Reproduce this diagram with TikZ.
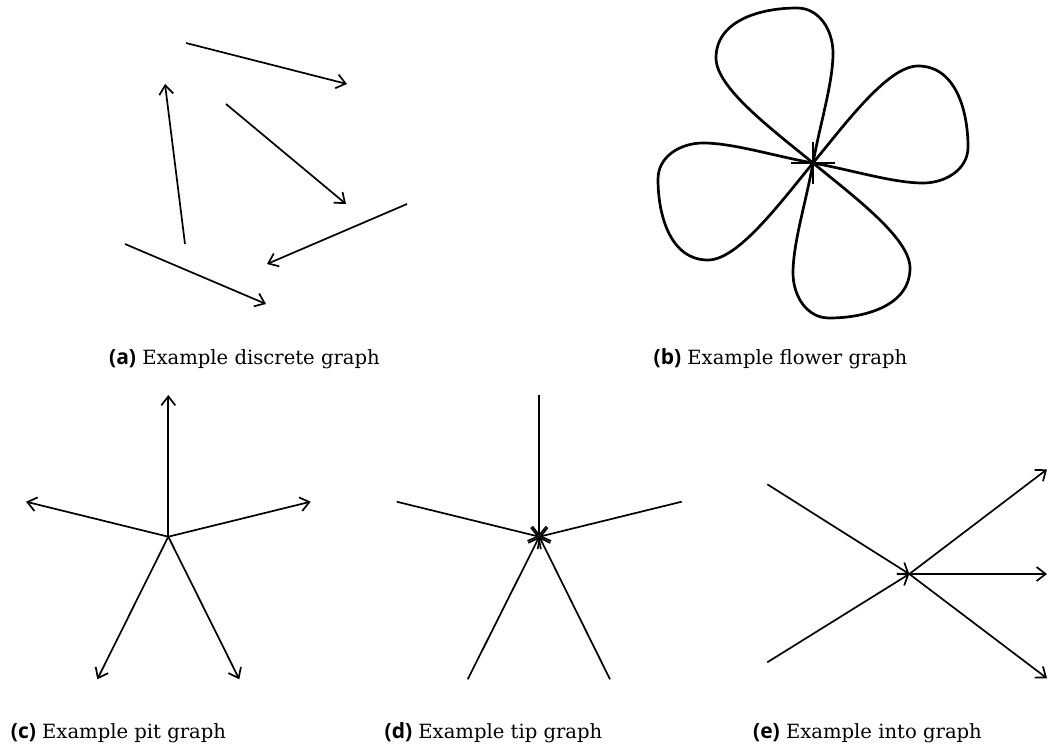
\documentclass[tikz,border=0pt]{standalone}
\usepackage{fontspec}
\setmainfont{DejaVu Serif}
\newfontfamily\capsans{Open Sans}
\usetikzlibrary{arrows.meta}
\begin{document}
\begin{tikzpicture}[x=1pt,y=-1pt,
  edge/.style={line width=1.7pt,-{Straight Barb[length=9pt,width=14pt,line width=1.7pt]}},
  petal/.style={line width=2.7pt,line join=round},
  tipbar/.style={line width=2.2pt},
  captext/.style={font=\fontsize{19.6}{24}\selectfont,anchor=base,inner sep=0pt}
]
\useasboundingbox (0,0) rectangle (1048,749);
\newcommand\sublbl[1]{{\capsans\bfseries\fontsize{21}{24}\selectfont (#1)}}

% (a) discrete graph
\coordinate (a1s) at (186,43);  \coordinate (a1t) at (347,84);
\coordinate (a2s) at (185,244); \coordinate (a2t) at (165,84);
\coordinate (a3s) at (226,104); \coordinate (a3t) at (346,204);
\coordinate (a4s) at (407,204); \coordinate (a4t) at (267,264);
\coordinate (a5s) at (125,244); \coordinate (a5t) at (266,304);
\draw[edge] (a1s) -- (a1t);
\draw[edge] (a2s) -- (a2t);
\draw[edge] (a3s) -- (a3t);
\draw[edge] (a4s) -- (a4t);
\draw[edge] (a5s) -- (a5t);
\node[captext] (capa) at (244.5,364) {\sublbl{a} Example discrete graph};

% (b) flower graph
\coordinate (fc) at (813,163);
\foreach \r in {0,-90,180,90} {
  \begin{scope}[shift={(fc)},x=1pt,y=1pt,rotate=\r]
    \draw[petal] (fc) .. controls (7,39) and (20,80) .. (20,110)
      to[out=90,in=0] (-16,155)
      to[out=180,in=90] (-97,105)
      .. controls (-97,75) and (-40,33) .. (fc);
  \end{scope}
}
\draw[tipbar] ([xshift=-22pt]fc) -- ([xshift=22pt]fc);
\draw[tipbar] ([yshift=-21pt]fc) -- ([yshift=21pt]fc);
\node[captext] (capb) at (780.5,364) {\sublbl{b} Example flower graph};

% (c) pit graph
\coordinate (cc) at (168.3,536.7);
\coordinate (c1) at (168.3,395);
\coordinate (c2) at (26,501.7);
\coordinate (c3) at (310.7,501.7);
\coordinate (c4) at (97.3,679.3);
\coordinate (c5) at (239.3,679.3);
\foreach \t in {c1,c2,c3,c4,c5} \draw[edge] (cc) -- (\t);
\node[captext] (capc) at (118.5,738) {\sublbl{c} Example pit graph};

% (d) tip graph
\coordinate (dc) at (539.3,536.7);
\coordinate (d1) at (539.3,395);
\coordinate (d2) at (396.7,501.7);
\coordinate (d3) at (681.7,501.7);
\coordinate (d4) at (467.7,679.3);
\coordinate (d5) at (610,679.3);
\foreach \s in {d1,d2,d3,d4,d5} \draw[edge] (\s) -- (dc);
\node[captext] (capd) at (493.5,738) {\sublbl{d} Example tip graph};

% (e) into graph
\coordinate (ec) at (909.3,574);
\coordinate (e1) at (767.3,484.3);
\coordinate (e2) at (767.3,662.3);
\coordinate (e3) at (1047,469.3);
\coordinate (e4) at (1047,574);
\coordinate (e5) at (1047,678.3);
\draw[edge] (e1) -- (ec);
\draw[edge] (e2) -- (ec);
\draw[edge] (ec) -- (e3);
\draw[edge] (ec) -- (e4);
\draw[edge] (ec) -- (e5);
\node[captext] (cape) at (867.5,738) {\sublbl{e} Example into graph};
\end{tikzpicture}
\end{document}
